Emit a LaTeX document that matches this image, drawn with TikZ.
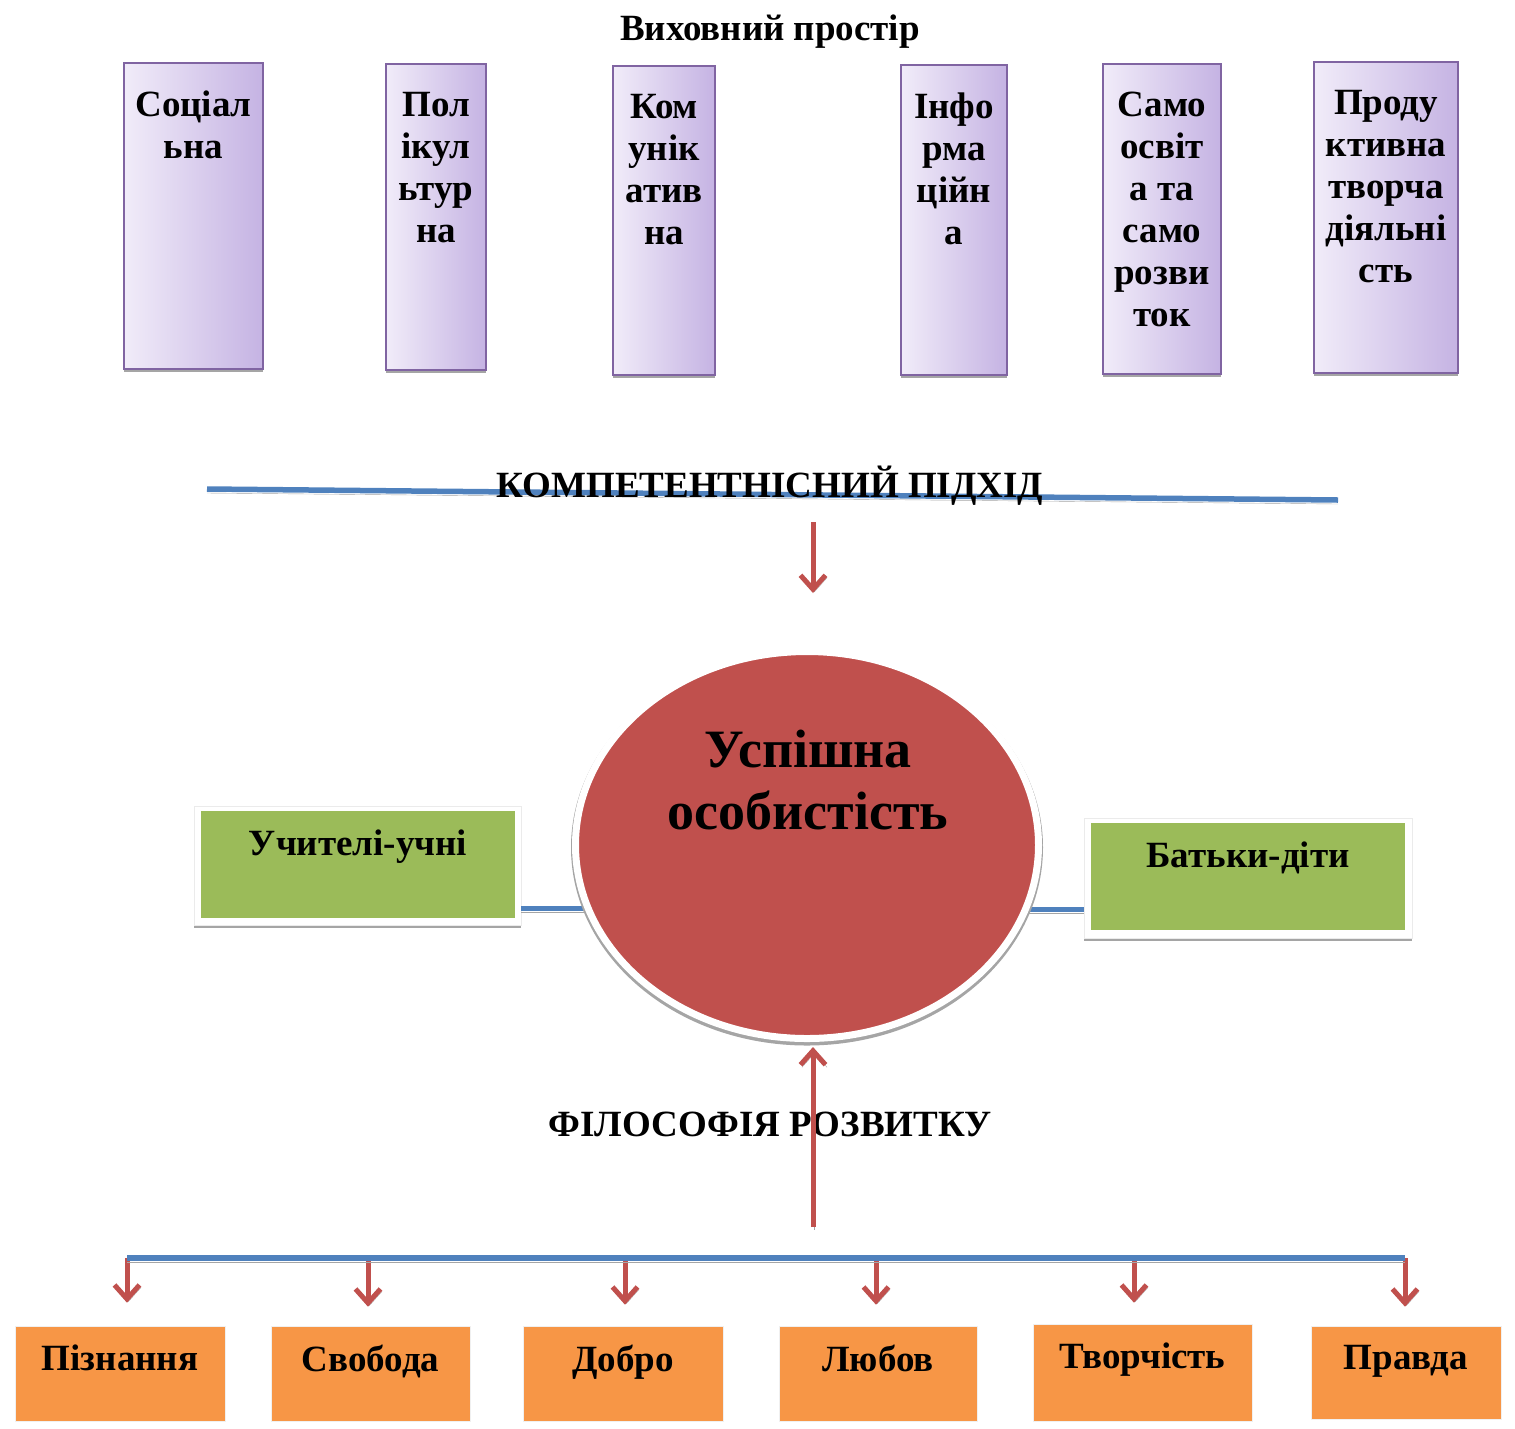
\documentclass[tikz,border=0pt]{standalone}
\usepackage{fontspec}
\setmainfont{Liberation Serif}
\usetikzlibrary{positioning, shapes.geometric, arrows.meta}

\definecolor{lilacL}{HTML}{F1ECF9}
\definecolor{lilacR}{HTML}{C5B3E3}
\definecolor{lilacD}{HTML}{8064A2}
\definecolor{lineblue}{HTML}{4F81BD}
\definecolor{arrowred}{HTML}{C0504D}
\definecolor{boxgreen}{HTML}{9BBB59}
\definecolor{boxorange}{HTML}{F79646}
\definecolor{shadowgray}{HTML}{A5A5A5}

\newcommand{\dtxt}{\fontsize{37}{42}\selectfont\bfseries}
\newcommand{\btxt}{\fontsize{54}{62}\selectfont\bfseries}

\tikzset{
	spacebox/.style={draw=lilacD, line width=2pt, left color=lilacL, right color=lilacR, inner sep=0,
		preaction={fill=shadowgray, transform canvas={yshift=-3pt}}},
	pairframe/.style={fill=white, draw=black!8, line width=0.6pt, inner sep=0,
		preaction={fill=shadowgray, transform canvas={yshift=-3pt}}},
	pairbox/.style={fill=boxgreen, inner sep=0},
	valuebox/.style={fill=boxorange, draw=black!6, line width=0.6pt, inner sep=0},
	label/.style={font=\dtxt, align=center, inner sep=0, anchor=north},
	bar/.style={draw=lineblue, line width=5.5pt, preaction={draw=shadowgray, transform canvas={yshift=-4pt}}},
	redarrow/.style={draw=arrowred, line width=5pt, -{Straight Barb[length=14pt, width=25pt]},
		preaction={draw=shadowgray, transform canvas={shift={(1.5pt,-2.5pt)}}}}
}

\begin{document}
\begin{tikzpicture}[x=1pt, y=-1pt]
	\useasboundingbox (0,0) rectangle (1515,1428);
	
	\node[label] (title) at (770,15) {Виховний простір};
	
	\node[spacebox, minimum width=139, minimum height=306] (soc) at (193.5,216) {};
	\node[spacebox, minimum width=100, minimum height=306] (pol) at (436,217) {};
	\node[spacebox, minimum width=102, minimum height=309] (kom) at (664,220.5) {};
	\node[spacebox, minimum width=106, minimum height=310] (inf) at (954,220) {};
	\node[spacebox, minimum width=118, minimum height=310] (sam) at (1162,219) {};
	\node[spacebox, minimum width=144, minimum height=311] (prd) at (1386,217.5) {};
	
	\node[label, below=29pt of soc.north] {Соціал\\ьна};
	\node[label, below=29pt of pol.north] {Пол\\ікул\\ьтур\\на};
	\node[label, below=29pt of kom.north] {Ком\\унік\\атив\\на};
	\node[label, below=29pt of inf.north] {Інфо\\рма\\ційн\\а};
	\node[label, below=29pt of sam.north] {Само\\освіт\\а та\\само\\розви\\ток};
	\node[label, below=29pt of prd.north] {Проду\\ктивна\\творча\\діяльні\\сть};
	
	\coordinate (kl) at (207,489);
	\coordinate (kr) at (1338,500);
	\draw[bar] (kl) -- (kr);
	\node[label] (approach) at (770,466) {КОМПЕТЕНТНІСНИЙ ПІДХІД};
	
	\coordinate (kt) at (813,522);
	\coordinate (kb) at (813,593);
	\draw[redarrow] (kt) -- (kb);
	
	\node[pairframe, minimum width=327, minimum height=119] (tchf) at (357.5,865.5) {};
	\node[pairbox, minimum width=314, minimum height=107] (tch) at (358,864.5) {};
	\node[label, below=19pt of tch.north] {Учителі-учні};
	
	\node[pairframe, minimum width=328, minimum height=120] (parf) at (1248,878) {};
	\node[pairbox, minimum width=314, minimum height=107] (par) at (1248,876.5) {};
	\node[label, below=19pt of par.north] {Батьки-діти};
	
	\coordinate (cc) at (807,845);
	\draw[bar] ([yshift=17pt]tchf.south east) -- ([yshift=17pt]tchf.south east -| cc);
	\draw[bar] ([yshift=29pt]parf.south west) -- ([yshift=29pt]parf.south west -| cc);
	
	\node[ellipse, fill=arrowred, draw=white, line width=7pt, minimum width=463, minimum height=387,
		preaction={draw=shadowgray, line width=9pt, transform canvas={yshift=-2.5pt}}] (circ) at (cc) {};
	\node[font=\btxt, align=center, inner sep=0, anchor=north] (succ) at (808,730) {Успішна\\особистість};
	
	\node[label] (philo) at (770,1112) {ФІЛОСОФІЯ РОЗВИТКУ};
	\coordinate (fb) at (813,1227);
	\draw[redarrow, shorten >=5pt] (fb) -- (fb |- circ.south);
	
	\node[valuebox, minimum width=210, minimum height=95] (pzn) at (120,1373.5) {};
	\node[valuebox, minimum width=199, minimum height=95] (svb) at (370.5,1373.5) {};
	\node[valuebox, minimum width=200, minimum height=95] (dbr) at (623,1373.5) {};
	\node[valuebox, minimum width=198, minimum height=95] (lub) at (878,1373.5) {};
	\node[valuebox, minimum width=219, minimum height=97] (tvr) at (1142.5,1372.5) {};
	\node[valuebox, minimum width=190, minimum height=93] (prv) at (1406,1372.5) {};
	
	\node[label, below=19pt of pzn.north] {Пізнання};
	\node[label, below=19pt of svb.north] {Свобода};
	\node[label, below=19pt of dbr.north] {Добро};
	\node[label, below=19pt of lub.north] {Любов};
	\node[label, below=19pt of tvr.north] {Творчість};
	\node[label, below=19pt of prv.north] {Правда};
	
	\coordinate (d1) at (127,1258);
	\coordinate (d2) at (368,1258);
	\coordinate (d3) at (625,1258);
	\coordinate (d4) at (876,1258);
	\coordinate (d5) at (1134,1258);
	\coordinate (d6) at (1405,1258);
	
	\draw[redarrow, shorten >=23pt] (d1) -- (d1 |- pzn.north);
	\draw[redarrow, shorten >=19pt] (d2) -- (d2 |- svb.north);
	\draw[redarrow, shorten >=21pt] (d3) -- (d3 |- dbr.north);
	\draw[redarrow, shorten >=21pt] (d4) -- (d4 |- lub.north);
	\draw[redarrow, shorten >=21pt] (d5) -- (d5 |- tvr.north);
	\draw[redarrow, shorten >=19pt] (d6) -- (d6 |- prv.north);
	\draw[bar] (d1) -- (d6);
\end{tikzpicture}
\end{document}
